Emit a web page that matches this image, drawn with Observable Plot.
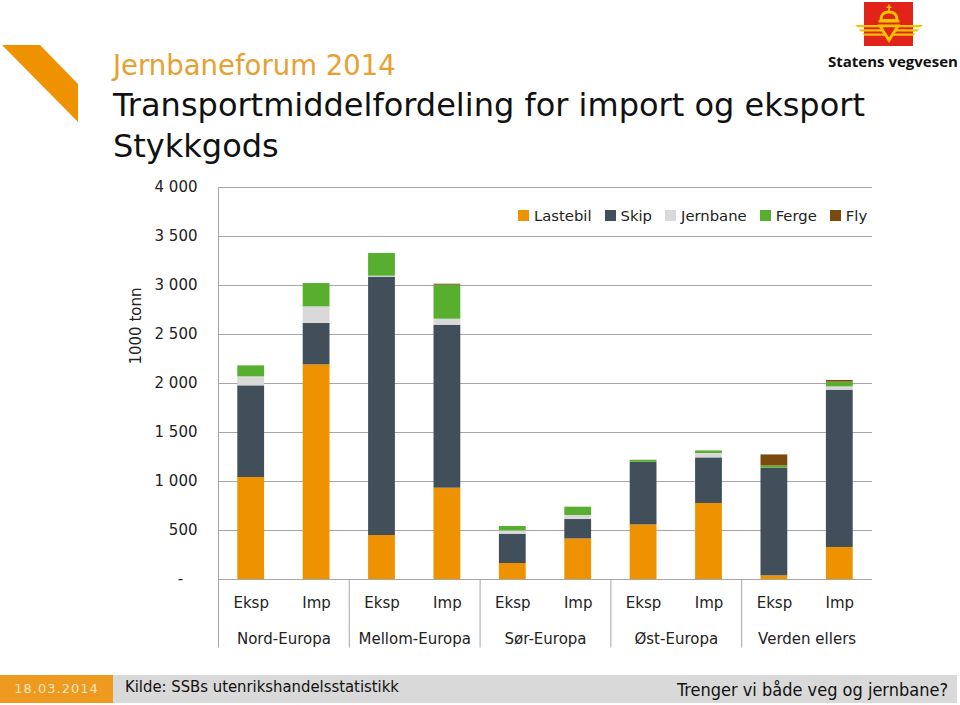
<!DOCTYPE html>
<html>
<head>
<meta charset="utf-8">
<script src="https://cdn.jsdelivr.net/npm/d3@7"></script>
<script src="https://cdn.jsdelivr.net/npm/@observablehq/plot@0.6"></script>
<style>
  html, body { margin: 0; padding: 0; background: #fff; }
  body { width: 960px; height: 705px; position: relative; overflow: hidden; font-family: "DejaVu Sans", sans-serif; }
  .abs { position: absolute; white-space: nowrap; }
  #chart { position: absolute; left: 0; top: 0; }
  #title1 { left: 113px; top: 52px; font-size: 27.5px; line-height: 1; color: #E8A030; }
  #title2 { left: 113px; top: 85px; font-size: 32px; line-height: 41px; color: #111; }
  #ylabel { left: 136px; top: 326px; font-size: 15px; color: #222; transform: translate(-50%, -50%) rotate(-90deg); }
  #legend { left: 518px; top: 199px; }
  .lg-swatches { font-family: "DejaVu Sans", sans-serif; font-size: 14.8px; color: #222; }
  .lg-swatch { margin-right: 13px !important; }
  .lg-swatch > svg { margin-right: 5px !important; }
  #footL { left: 0; top: 675px; width: 113px; height: 28px; background: #EE9A1E; color: #FBE6C4; font-size: 13px; letter-spacing: 1px; line-height: 28px; text-align: center; }
  #footR { left: 113px; top: 675px; width: 844px; height: 28px; background: #D9D9D9; }
  #kilde { left: 125px; top: 674px; line-height: 26px; font-family: "DejaVu Sans Condensed", "DejaVu Sans", sans-serif; font-stretch: condensed; font-size: 16.5px; color: #111; }
  #trenger { right: 12px; top: 677px; line-height: 26px; font-family: "DejaVu Sans Condensed", "DejaVu Sans", sans-serif; font-stretch: condensed; font-size: 18px; color: #111; }
  #brand { left: 828px; top: 51px; font-family: "Open Sans", "DejaVu Sans", sans-serif; font-weight: 700; font-size: 15px; color: #111; }
</style>
</head>
<body>
<script>
// ---- data (1000 tonn) ----
const regions = ["Nord-Europa", "Mellom-Europa", "Sør-Europa", "Øst-Europa", "Verden ellers"];
const flows = ["Eksp", "Imp"];
const modes = ["Lastebil", "Skip", "Jernbane", "Ferge", "Fly"];
const modeColors = ["#EE9200", "#404F5A", "#D9D9D9", "#58AE2F", "#7A4A0F"];
// bars in order: Nord Eksp, Nord Imp, Mellom Eksp, Mellom Imp, Sør Eksp, Sør Imp, Øst Eksp, Øst Imp, Verden Eksp, Verden Imp
const lastebil = [1041, 2190, 449, 932, 163, 414, 557, 776, 37, 327];
const skip     = [935, 422, 2636, 1663, 299, 198, 640, 465, 1099, 1605];
const jernbane = [92, 170, 10, 61, 34, 41, 0, 45, 0, 34];
const ferge    = [112, 238, 232, 347, 45, 85, 20, 26, 23, 48];
const fly      = [0, 0, 0, 10, 0, 0, 0, 0, 112, 17];
const yTicks = [0, 500, 1000, 1500, 2000, 2500, 3000, 3500, 4000];
</script>

<div id="chart"></div>

<svg class="abs" style="left:0;top:0" width="120" height="130">
  <polygon points="2,45 40,45 78,84 78,122" fill="#EE9200"/>
</svg>

<svg class="abs" style="left:850px;top:0" width="80" height="50">
  <rect x="14" y="2" width="49" height="44" fill="#E2231A"/>
  <!-- crown -->
  <rect x="38.2" y="4.5" width="1.6" height="6.5" fill="#F5C400"/>
  <rect x="36.5" y="6.5" width="5" height="1.5" fill="#F5C400"/>
  <path d="M29.5,20 Q29.5,10.5 39,10.5 Q48.5,10.5 48.5,20 Z" fill="#F5C400"/>
  <path d="M32.5,19 Q32.5,13.5 39,13.5 Q45.5,13.5 45.5,19 Z" fill="#E2231A"/>
  <rect x="28.5" y="20" width="21" height="2.5" fill="#F5C400"/>
  <!-- triangle -->
  <polygon points="27.5,24.5 50.5,24.5 39,43" fill="#F5C400"/>
  <polygon points="32.5,27.2 45.5,27.2 39,37.5" fill="#E2231A"/>
  <!-- wings -->
  <polygon points="5,25 29,25 30.2,27.3 7.5,27.3" fill="#F5C400"/>
  <polygon points="8.5,29.2 31.4,29.2 32.6,31.5 11,31.5" fill="#F5C400"/>
  <polygon points="12,33.4 33.8,33.4 35,35.7 14.5,35.7" fill="#F5C400"/>
  <polygon points="73,25 49,25 47.8,27.3 70.5,27.3" fill="#F5C400"/>
  <polygon points="69.5,29.2 46.6,29.2 45.4,31.5 67,31.5" fill="#F5C400"/>
  <polygon points="66,33.4 44.2,33.4 43,35.7 63.5,35.7" fill="#F5C400"/>
</svg>
<div id="brand" class="abs">Statens vegvesen</div>

<div id="title1" class="abs">Jernbaneforum 2014</div>
<div id="title2" class="abs">Transportmiddelfordeling for import og eksport<br>Stykkgods</div>
<div id="ylabel" class="abs">1000 tonn</div>
<div id="legend" class="abs"></div>

<div id="footL" class="abs">18.03.2014</div>
<div id="footR" class="abs"></div>
<div id="kilde" class="abs">Kilde: SSBs utenrikshandelsstatistikk</div>
<div id="trenger" class="abs">Trenger vi både veg og jernbane?</div>

<script>
const series = [lastebil, skip, jernbane, ferge, fly];
const bars = regions.flatMap((r, g) => flows.map((f, k) => ({i: g * flows.length + k, region: r, flow: f})));
const rows = [];
bars.forEach(b => {
  let acc = 0;
  modes.forEach((m, j) => {
    const v = series[j][b.i];
    if (v > 0) rows.push({i: b.i, mode: m, y1: acc, y2: acc + v});
    acc += v;
  });
});
const groupEdges = regions.map((_, g) => g * flows.length);
const fmt = d => d === 0 ? "-\u00a0\u00a0\u00a0" : d3.format(",")(d).replace(/,/g, " ");

const chart = Plot.plot({
  width: 960,
  height: 660,
  marginLeft: 218,
  marginRight: 88,
  marginTop: 187,
  marginBottom: 81,
  style: {fontFamily: "DejaVu Sans, sans-serif", fontSize: "15px", background: "transparent", color: "#222", overflow: "visible"},
  x: {domain: [0, bars.length], axis: null},
  y: {domain: [0, 4000], ticks: yTicks, tickSize: 0, tickPadding: 21, tickFormat: fmt, label: null},
  color: {domain: modes, range: modeColors},
  marks: [
    Plot.ruleY(yTicks, {stroke: "#A6A6A6", strokeWidth: 1}),
    Plot.ruleX([0], {y1: 4000, y2: -700, stroke: "#A6A6A6"}),
    Plot.ruleX(groupEdges.slice(1), {y1: 0, y2: -700, stroke: "#A6A6A6"}),
    Plot.rect(rows, {x1: "i", x2: d => d.i + 1, y1: "y1", y2: "y2", fill: "mode", insetLeft: 19.3, insetRight: 19.3}),
    Plot.text(bars, {x: d => d.i + 0.5, text: "flow", frameAnchor: "bottom", dy: 28, fill: "#222"}),
    Plot.text(regions, {x: (d, g) => g * flows.length + flows.length / 2, text: d => d, frameAnchor: "bottom", dy: 64, fill: "#222"})
  ]
});
document.getElementById("chart").appendChild(chart);

const legend = Plot.legend({
  color: {domain: modes, range: modeColors},
  swatchSize: 11,
  className: "lg"
});
document.getElementById("legend").appendChild(legend);
</script>
</body>
</html>
